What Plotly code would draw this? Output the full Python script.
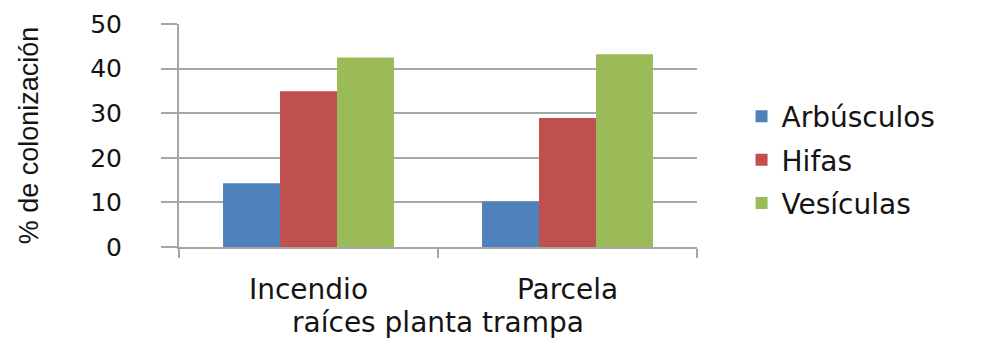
import plotly.graph_objects as go

# Root colonisation by mycorrhizal structures, per sampling site
categories = ["Incendio", "Parcela"]
arbusculos = [14.3, 10.2]
hifas = [34.9, 28.9]
vesiculas = [42.5, 43.2]

series_names = ["Arbúsculos", "Hifas", "Vesículas"]
series_values = [arbusculos, hifas, vesiculas]
series_colors = ["#4f81bd", "#c0504d", "#9bbb59"]

y_ticks = [0, 10, 20, 30, 40, 50]

grid_gray = "#a6a6a6"
text_color = "#141414"

fig = go.Figure()
for name, vals, color in zip(series_names, series_values, series_colors):
    fig.add_trace(go.Bar(
        name=name,
        x=categories,
        y=vals,
        marker=dict(color=color, line=dict(width=0)),
        legendgroup=name,
    ))

fig.update_layout(
    width=993,
    height=339,
    margin=dict(l=179, r=296, t=24, b=92, autoexpand=False),
    paper_bgcolor="white",
    plot_bgcolor="white",
    barmode="group",
    bargap=0.34,
    bargroupgap=0,
    showlegend=True,
    legend=dict(
        x=1.086,
        y=0.39,
        xanchor="left",
        yanchor="middle",
        font=dict(family="DejaVu Sans", size=28, color=text_color),
        tracegroupgap=4,
        itemsizing="constant",
        bgcolor="rgba(0,0,0,0)",
    ),
    font=dict(family="DejaVu Sans", color=text_color),
)

fig.update_yaxes(
    range=[0, 50],
    tickvals=y_ticks,
    ticks="outside",
    ticklen=16,
    tickwidth=2,
    tickcolor=grid_gray,
    ticklabelstandoff=34,
    tickfont=dict(family="DejaVu Sans", size=25, color=text_color),
    showgrid=True,
    gridcolor=grid_gray,
    gridwidth=2,
    showline=True,
    linecolor=grid_gray,
    linewidth=2,
    zeroline=False,
    automargin=False,
    title=dict(
        text="% de colonización",
        font=dict(family="Liberation Sans", size=27, color=text_color),
        standoff=44,
    ),
)

fig.update_xaxes(
    showline=True,
    linecolor=grid_gray,
    linewidth=2,
    ticks="outside",
    tickson="boundaries",
    ticklen=9,
    tickwidth=2,
    tickcolor=grid_gray,
    ticklabelstandoff=16,
    tickfont=dict(family="DejaVu Sans", size=28, color=text_color),
    automargin=False,
    title=dict(
        text="raíces planta trampa",
        font=dict(family="DejaVu Sans", size=28, color=text_color),
        standoff=8,
    ),
)

fig.write_html("out.html")
